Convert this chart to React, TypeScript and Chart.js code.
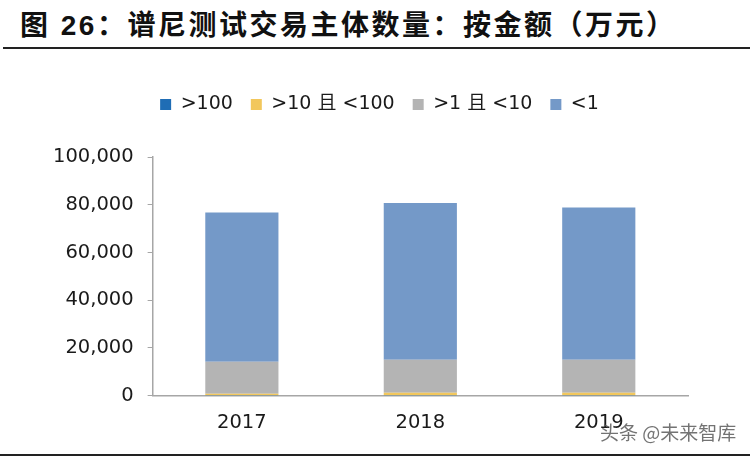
import React, { useEffect, useRef } from 'react';
import { Chart, registerables } from 'chart.js';

Chart.register(...registerables);

const categories = ['2017', '2018', '2019'];
const seriesLabels = ['>100', '>10 且 <100', '>1 且 <10', '<1'];
const over100 = [40, 60, 60];
const from10to100 = [700, 1100, 1100];
const from1to10 = [13400, 13850, 13850];
const under1 = [62600, 65750, 63800];
const yTickValues = [0, 20000, 40000, 60000, 80000, 100000];
const seriesColors = ['#1F6DB5', '#F2C75C', '#B4B4B4', '#7499C8'];

const titleText = '图 26：谱尼测试交易主体数量：按金额（万元）';
const watermarkText = '头条 @未来智库';

const legendSpacer = {
  id: 'legendSpacer',
  afterInit(chart: any) {
    const legend = chart.legend;
    if (!legend) return;
    const orig = legend.fit;
    legend.fit = function () {
      orig.call(this);
      this.height += 33;
    };
  },
  afterLayout(chart: any) {
    const legend = chart.legend;
    if (!legend) return;
    legend.left += 16;
    legend.right += 16;
  },
};

export default function App() {
  const ref = useRef<HTMLCanvasElement | null>(null);

  useEffect(() => {
    if (!ref.current) return;
    const font = { family: '"DejaVu Sans", "Noto Sans CJK SC", sans-serif', size: 19.5 };
    const legendFont = { family: '"DejaVu Sans", "Noto Sans CJK SC", sans-serif', size: 19 };
    const chart = new Chart(ref.current, {
      type: 'bar',
      data: {
        labels: categories,
        datasets: [over100, from10to100, from1to10, under1].map((d, i) => ({
          label: seriesLabels[i],
          data: d,
          backgroundColor: seriesColors[i],
          borderWidth: 0,
          categoryPercentage: 1,
          barPercentage: 0.41,
        })),
      },
      options: {
        animation: false,
        responsive: false,
        maintainAspectRatio: false,
        layout: { padding: { left: 39, right: 62, top: 17, bottom: 7 } },
        plugins: {
          tooltip: { enabled: false },
          legend: {
            display: true,
            position: 'top',
            align: 'center',
            labels: {
              boxWidth: 11,
              boxHeight: 11,
              padding: 18,
              color: '#1a1a1a',
              font: legendFont,
            },
          },
        },
        scales: {
          x: {
            stacked: true,
            grid: { display: false, drawTicks: false },
            border: { display: true, color: '#A6A6A6', width: 1.5 },
            ticks: { color: '#1a1a1a', font, padding: 16 },
          },
          y: {
            stacked: true,
            min: 0,
            max: 100000,
            afterBuildTicks: (scale: any) => {
              scale.ticks = yTickValues.map((v) => ({ value: v }));
            },
            grid: {
              display: true,
              drawOnChartArea: false,
              drawTicks: true,
              tickLength: 5,
              color: '#A6A6A6',
            },
            border: { display: true, color: '#A6A6A6', width: 1.5 },
            ticks: {
              color: '#1a1a1a',
              font,
              padding: 14,
              callback: (v: any) => Number(v).toLocaleString('en-US'),
            },
          },
        },
      },
      plugins: [legendSpacer],
    });
    return () => chart.destroy();
  }, []);

  return (
    <div
      style={{
        position: 'fixed',
        left: 0,
        top: 0,
        width: 750,
        height: 458,
        background: '#fff',
        overflow: 'hidden',
      }}
    >
      <div
        style={{
          position: 'absolute',
          left: 20,
          top: 7,
          fontFamily: '"Liberation Sans", "Noto Sans CJK SC", sans-serif',
          fontWeight: 'bold',
          fontSize: 28,
          lineHeight: '38px',
          color: '#111',
          whiteSpace: 'nowrap',
          letterSpacing: 2.5,
        }}
      >
        {titleText}
      </div>
      <div style={{ position: 'absolute', left: 3, top: 47, width: 747, height: 2, background: '#222' }} />
      <canvas
        ref={ref}
        width={750}
        height={398}
        style={{ position: 'absolute', left: 0, top: 60, width: 750, height: 398 }}
      />
      <div
        style={{
          position: 'absolute',
          left: 600,
          top: 419,
          fontFamily: '"Noto Sans CJK SC", sans-serif',
          fontSize: 19,
          lineHeight: '26px',
          color: 'rgba(90,90,90,0.85)',
          whiteSpace: 'nowrap',
        }}
      >
        {watermarkText}
      </div>
      <div style={{ position: 'absolute', left: 0, top: 454, width: 750, height: 2, background: '#222' }} />
    </div>
  );
}
